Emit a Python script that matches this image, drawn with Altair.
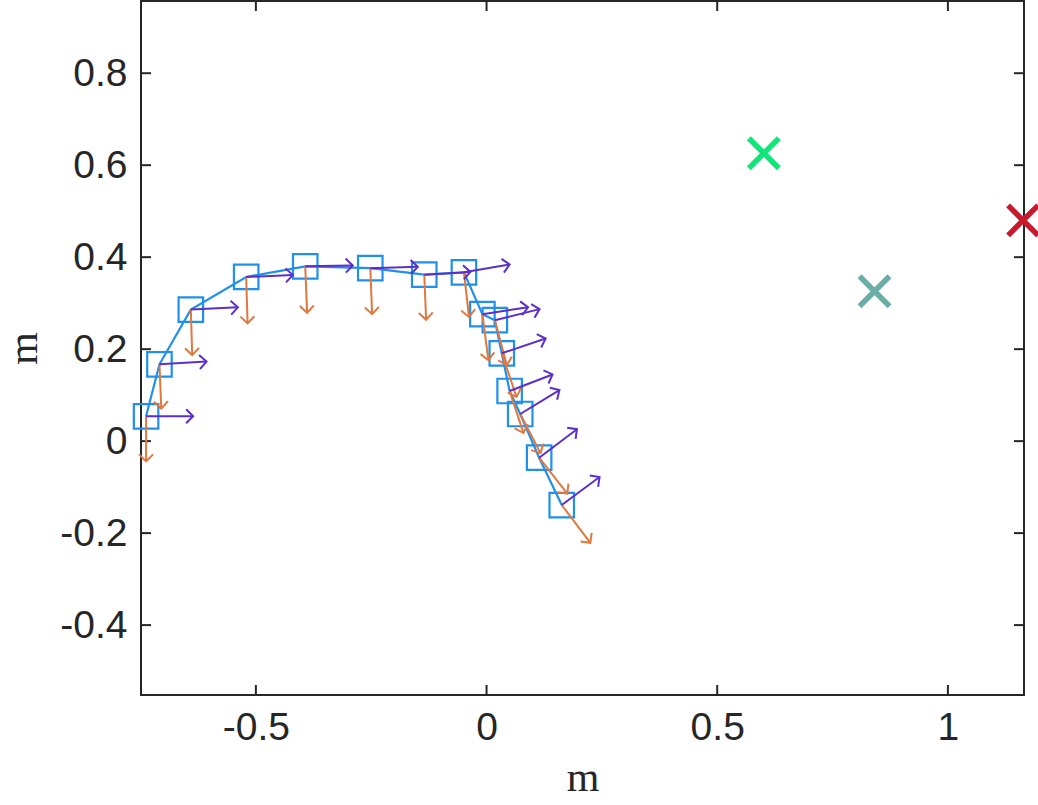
import math
import altair as alt
import pandas as pd

# Sampled trajectory (m)
path_x = [-0.738, -0.709, -0.641, -0.521, -0.393, -0.252, -0.135, -0.049,
          -0.009, 0.018, 0.033, 0.050, 0.073, 0.114, 0.163]
path_y = [0.054, 0.167, 0.286, 0.357, 0.380, 0.376, 0.362, 0.367,
          0.276, 0.263, 0.191, 0.109, 0.059, -0.036, -0.139]

# Tangent vectors at each sample (purple quiver)
tan_u = [0.102, 0.102, 0.102, 0.101, 0.103, 0.103, 0.100, 0.099,
         0.099, 0.097, 0.095, 0.093, 0.085, 0.082, 0.082]
tan_v = [0.000, 0.006, 0.005, 0.004, 0.002, 0.003, 0.006, 0.017,
         0.015, 0.024, 0.032, 0.036, 0.052, 0.062, 0.061]

# Normal vectors at each sample (orange quiver)
nrm_u = [0.000, 0.004, 0.003, 0.003, 0.004, 0.004, 0.004, 0.011,
         0.013, 0.026, 0.032, 0.030, 0.044, 0.061, 0.062]
nrm_v = [-0.098, -0.096, -0.099, -0.101, -0.101, -0.100, -0.098, -0.097,
         -0.100, -0.098, -0.095, -0.091, -0.085, -0.078, -0.082]

# Target points
target_x = [0.601, 0.841, 1.163]
target_y = [0.626, 0.326, 0.480]
target_color = ["#10E67A", "#6BAEA8", "#C8192F"]

x_ticks = [-0.5, 0, 0.5, 1]
y_ticks = [-0.4, -0.2, 0, 0.2, 0.4, 0.6, 0.8]

W, H = 883, 694
INK = "#262626"
BLUE = "#2090EA"
PURPLE = "#5A2FCB"
ORANGE = "#E0783F"

xs = alt.Scale(domain=[-0.749, 1.165], nice=False, zero=False)
ys = alt.Scale(domain=[-0.552, 0.957], nice=False, zero=False)

# plain hyphen for negatives, no trailing zeros
LABEL = "replace(format(datum.value, '.1~f'), '\u2212', '-')"

x_axis = alt.Axis(values=x_ticks, ticks=False, domain=False, grid=False,
                  labelExpr=LABEL, labelPadding=13, title="m",
                  titleY=95, titleBaseline="alphabetic")
y_axis = alt.Axis(values=y_ticks, ticks=False, domain=False, grid=False,
                  labelExpr=LABEL, labelPadding=14, title="m",
                  titleX=-105, titleBaseline="alphabetic", titleAngle=270)


def X(field, **kw):
    return alt.X(field, type="quantitative", scale=xs, axis=x_axis, **kw)


def Y(field, **kw):
    return alt.Y(field, type="quantitative", scale=ys, axis=y_axis, **kw)


path = pd.DataFrame({"x": path_x, "y": path_y, "i": range(len(path_x))})


def quiver_frame(u, v):
    return pd.DataFrame({
        "x": path_x, "y": path_y,
        "x2": [a + b for a, b in zip(path_x, u)],
        "y2": [a + b for a, b in zip(path_y, v)],
        "ang": [(math.degrees(math.atan2(-b * 460.0, a * 461.0)) + 360) % 360
                for a, b in zip(u, v)],
    })


tan_df = quiver_frame(tan_u, tan_v)
nrm_df = quiver_frame(nrm_u, nrm_v)
targets = pd.DataFrame({"x": target_x, "y": target_y, "c": target_color})

CHEVRON = "M-1,-1L0,0L-1,1"
CROSS = "M-1,-1L1,1M1,-1L-1,1"

line = alt.Chart(path).mark_line(color=BLUE, strokeWidth=2.2).encode(
    x=X("x"), y=Y("y"), order="i:Q")
squares = alt.Chart(path).mark_point(
    shape="square", size=600, filled=False, color=BLUE, strokeWidth=2.2,
    opacity=1).encode(x=X("x"), y=Y("y"))


def quiver(df, color):
    shaft = alt.Chart(df).mark_rule(color=color, strokeWidth=2).encode(
        x=X("x"), y=Y("y"), x2="x2", y2="y2")
    head = alt.Chart(df).mark_point(
        shape=CHEVRON, size=196, filled=False, color=color, strokeWidth=2,
        opacity=1).encode(x=X("x2"), y=Y("y2"),
                          angle=alt.Angle("ang:Q", scale=None))
    return shaft + head


crosses = alt.Chart(targets).mark_point(
    shape=CROSS, size=900, filled=False, strokeWidth=5.5, opacity=1).encode(
    x=X("x"), y=Y("y"), color=alt.Color("c:N", scale=None))

tick_df = pd.DataFrame({"t": x_ticks})
ytick_df = pd.DataFrame({"t": y_ticks})
tick_kw = dict(color=INK, strokeWidth=2)
ticks = (
    alt.Chart(tick_df).mark_rule(**tick_kw).encode(
        x=X("t"), y=alt.value(H), y2=alt.value(H - 10))
    + alt.Chart(tick_df).mark_rule(**tick_kw).encode(
        x=X("t"), y=alt.value(0), y2=alt.value(10))
    + alt.Chart(ytick_df).mark_rule(**tick_kw).encode(
        y=Y("t"), x=alt.value(0), x2=alt.value(10))
    + alt.Chart(ytick_df).mark_rule(**tick_kw).encode(
        y=Y("t"), x=alt.value(W), x2=alt.value(W - 10))
)

chart = alt.layer(
    ticks, line, squares, quiver(nrm_df, ORANGE), quiver(tan_df, PURPLE), crosses
).properties(
    width=W, height=H,
    autosize=alt.AutoSizeParams(type="none"),
    padding={"left": 141, "top": 1, "right": 14, "bottom": 110},
    background="white",
).configure_view(
    stroke=INK, strokeWidth=2
).configure_axis(
    labelFont="Liberation Sans", labelFontSize=39, labelColor=INK,
    titleFont="Liberation Serif", titleFontSize=42, titleFontWeight="normal",
    titleColor=INK,
)

chart.save("out.html", embed_options={"renderer": "svg", "actions": False})
